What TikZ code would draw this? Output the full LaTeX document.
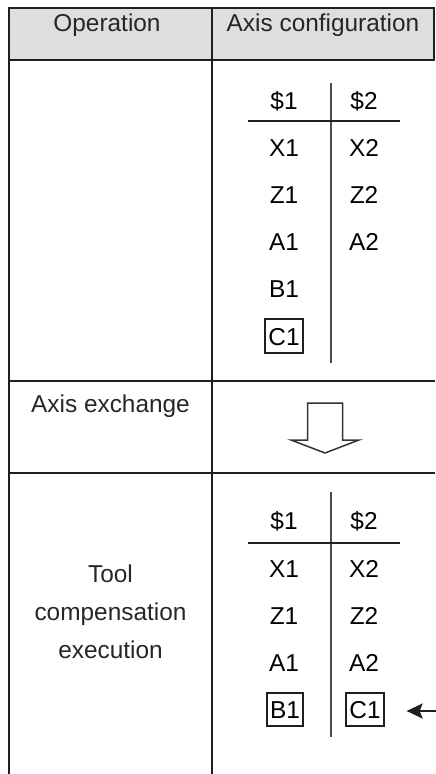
\documentclass[tikz,border=0pt]{standalone}
\usepackage{fontspec}
\setmainfont{Liberation Sans}
\usepackage{tikz}
\usetikzlibrary{arrows.meta,positioning,calc}
\newcommand{\cellfont}{\fontsize{12.2}{19}\selectfont}
\tikzset{
	gridline/.style={line width=1.1pt, draw=black!88},
	ruleline/.style={line width=1pt, draw=black!88},
	sepline/.style={line width=0.75pt, draw=black!70},
	cell/.style={font=\cellfont, anchor=base, inner xsep=1.5pt, inner ysep=2pt,
		text height=10.75pt, text depth=2pt},
	boxcell/.style={cell, draw=black!88, line width=1pt},
	rowtext/.style={font=\cellfont, align=center, text=black!85},
	hollowarrow/.style={draw=black!80, line width=0.75pt, fill=white},
	ptr/.style={-{Stealth[length=8pt, width=7.5pt, inset=1.5pt]}, line width=1.3pt, black!88}
}

\begin{document}
\begin{tikzpicture}[x=0.5pt, y=-0.5pt]
			\useasboundingbox (0,0) rectangle (435,774);
			
			%% -- Header band
			\fill[black!13] (9,8) rectangle (434,60);
			\draw[gridline] (9,774) -- (9,8) -- (434,8) -- (434,60);
			\draw[gridline] (212,8) -- (212,774);
			\draw[gridline] (9,60) -- (435,60);
			\draw[gridline] (9,381) -- (435,381);
			\draw[gridline] (9,473) -- (435,473);
			
			\node[rowtext, anchor=base] (ophead) at (107,32) {Operation};
			\node[rowtext, anchor=base] (axhead) at (323,32) {Axis configuration};
			
			%% -- Axis configuration before exchange
			\node[cell] (ts1) at (284,110) {\$1};
			\node[cell] (ts2) at (364,110) {\$2};
			\node[cell] (tx1) at (284,157) {X1};
			\node[cell] (tx2) at (364,157) {X2};
			\node[cell] (tz1) at (284,204) {Z1};
			\node[cell] (tz2) at (364,204) {Z2};
			\node[cell] (ta1) at (284,251) {A1};
			\node[cell] (ta2) at (364,251) {A2};
			\node[cell] (tb1) at (284,298) {B1};
			\node[boxcell] (tc1) at (284,345) {C1};
			
			\draw[sepline] (331,83) -- (331,363);
			\draw[ruleline] (248,121) -- (400,121);
			
			%% -- Axis exchange
			\node[rowtext, anchor=base] (xchg) at (110.5,412) {Axis exchange};
			
			\coordinate (xarrow) at (325,403);
			\draw[hollowarrow] ([xshift=-8.75pt]xarrow) -- ++(35,0) -- ++(0,37)
			-- ++(16.5,0) -- ++(-34,13) -- ++(-34,-13) -- ++(16.5,0) -- cycle;
			
			%% -- Axis configuration during tool compensation
			\node[rowtext] (toolcomp) at (110.5,612)
			{Tool\\compensation\\execution};
			
			\node[cell] (bs1) at (284,529) {\$1};
			\node[cell] (bs2) at (364,529) {\$2};
			\node[cell] (bx1) at (284,577) {X1};
			\node[cell] (bx2) at (364,577) {X2};
			\node[cell] (bz1) at (284,624) {Z1};
			\node[cell] (bz2) at (364,624) {Z2};
			\node[cell] (ba1) at (284,671) {A1};
			\node[cell] (ba2) at (364,671) {A2};
			\node[boxcell] (bb1) at (285,718) {B1};
			\node[boxcell] (bc1) at (365,718) {C1};
			
			\draw[sepline] (331,492) -- (331,737);
			\draw[ruleline] (248,543) -- (400,543);
			
			%% -- pointer to the moved axis
			\coordinate (ptrfrom) at (436,711);
			\draw[ptr] (ptrfrom) -- ([xshift=11pt]bc1.east |- ptrfrom);
			
\end{tikzpicture}
\end{document}
